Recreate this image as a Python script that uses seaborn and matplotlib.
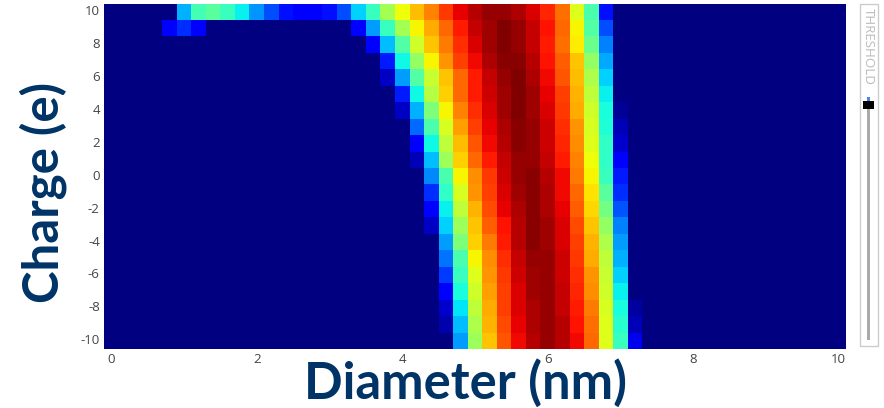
from matplotlib import pyplot as plt
from matplotlib.patches import Rectangle
import numpy as np
import seaborn as sns

N_DIAMETERS = 51
charges = list(range(10, -11, -1))
x_tick_labels = [0, 2, 4, 6, 8, 10]
y_tick_labels = [10, 8, 6, 4, 2, 0, -2, -4, -6, -8, -10]

# first column with signal, then the values from there on (rest of the row is 0)
row_p10 = (5, [.30, .43, .46, .42, .36, .27, .20, .14, .12, .11, .14, .20, .33, .42, .55, .64, .71, .77, .85, .91, .95, .98, .98, .96, .92, .87, .79, .62, .44, .14])
row_p9 = (4, [.11, .17, .11, 0, 0, 0, 0, 0, 0, 0, 0, 0, 0, .11, .28, .42, .55, .65, .73, .80, .88, .94, .97, 1.0, .98, .94, .89, .80, .65, .45, .20])
row_p8 = (18, [.11, .31, .45, .60, .70, .78, .86, .92, .97, 1.0, .98, .94, .88, .79, .66, .48, .25])
row_p7 = (19, [.15, .37, .53, .65, .75, .84, .90, .96, .99, .99, .95, .89, .81, .70, .53, .29])
row_p6 = (19, [.06, .28, .45, .59, .70, .80, .88, .94, .98, 1.0, .96, .90, .82, .71, .56, .33])
row_p5 = (20, [.15, .37, .57, .69, .80, .88, .93, .97, 1.0, .97, .91, .84, .72, .58, .36])
row_p4 = (20, [.06, .30, .50, .65, .77, .86, .92, .97, 1.0, .97, .92, .85, .73, .60, .38, .02])
row_p3 = (21, [.23, .44, .61, .74, .84, .91, .96, .99, .98, .93, .86, .75, .61, .39, .05])
row_p2 = (21, [.12, .37, .58, .71, .82, .90, .95, .99, .98, .93, .87, .76, .62, .41, .07])
row_p1 = (21, [.05, .31, .54, .69, .80, .88, .94, .98, .98, .94, .88, .77, .64, .41, .11])
row_0 = (22, [.26, .44, .65, .76, .85, .93, .98, .99, .95, .90, .78, .65, .42, .15])
row_m1 = (22, [.17, .41, .61, .75, .84, .92, .97, .99, .96, .90, .80, .67, .46, .17])
row_m2 = (22, [.11, .36, .58, .72, .83, .91, .96, .99, .96, .91, .81, .68, .49, .21])
row_m3 = (22, [.06, .33, .54, .70, .81, .89, .95, .99, .97, .92, .83, .70, .53, .25])
row_m4 = (23, [.28, .50, .69, .78, .88, .95, .99, .97, .92, .84, .72, .56, .28])
row_m5 = (23, [.24, .44, .65, .76, .86, .94, .98, .98, .93, .85, .73, .58, .30])
row_m6 = (23, [.18, .42, .62, .75, .85, .93, .97, .98, .93, .86, .75, .59, .33])
row_m7 = (23, [.11, .38, .60, .74, .84, .92, .97, .98, .94, .87, .76, .60, .36])
row_m8 = (23, [.07, .35, .58, .73, .84, .92, .96, .98, .94, .88, .78, .61, .38, .03])
row_m9 = (23, [.04, .31, .56, .72, .83, .91, .96, .98, .95, .89, .79, .62, .40, .05])
row_m10 = (24, [.28, .54, .70, .82, .90, .95, .98, .95, .90, .80, .62, .42, .10])

rows = [row_p10, row_p9, row_p8, row_p7, row_p6, row_p5, row_p4, row_p3, row_p2, row_p1, row_0,
        row_m1, row_m2, row_m3, row_m4, row_m5, row_m6, row_m7, row_m8, row_m9, row_m10]

counts = np.zeros((len(charges), N_DIAMETERS))
for i, (start, values) in enumerate(rows):
    counts[i, start:start + len(values)] = values

W, H = 884, 408
NAVY = "#003366"
TICK = "#444444"

fig = plt.figure(figsize=(W / 100, H / 100), dpi=100)
ax = fig.add_axes([104 / W, 1 - 349 / H, 742 / W, 345.5 / H])
sns.heatmap(counts, ax=ax, cmap="jet", vmin=0, vmax=1, cbar=False)

ax.set_xticks([v * 5 + 0.5 for v in x_tick_labels])
ax.set_xticklabels(x_tick_labels, rotation=0, fontsize=9.5, color=TICK, family="Open Sans")
ax.set_yticks([charges.index(v) + 0.5 for v in y_tick_labels])
ax.set_yticklabels(y_tick_labels, rotation=0, fontsize=9.5, color=TICK, family="Open Sans")
ax.tick_params(length=0, pad=3)

fig.text(465 / W, 1 - 383 / H, "Diameter (nm)", ha="center", va="center", fontsize=36.5,
         fontweight="bold", color=NAVY, family="Lato")
fig.text(43 / W, 1 - 192 / H, "Charge (e)", ha="center", va="center", rotation=90, fontsize=35.5,
         fontweight="bold", color=NAVY, family="Lato")

# threshold slider, drawn in pixel coordinates
px = fig.add_axes([0, 0, 1, 1])
px.set_xlim(0, W)
px.set_ylim(H, 0)
px.axis("off")
px.add_patch(Rectangle((860, 4), 18, 342, facecolor="white", edgecolor="#cccccc", linewidth=1))
px.add_patch(Rectangle((866.5, 108), 3.5, 232, facecolor="#aaaaaa", edgecolor="none"))
px.add_patch(Rectangle((866.5, 97), 3.5, 4, facecolor="#4a86e8", edgecolor="none"))
px.add_patch(Rectangle((862.5, 101), 11, 7.5, facecolor="black", edgecolor="none"))
px.text(868.5, 46, "THRESHOLD", rotation=270, ha="center", va="center", fontsize=9.6,
        color="#bbbbbb", family="Open Sans")

plt.savefig("out.png", dpi=100)
